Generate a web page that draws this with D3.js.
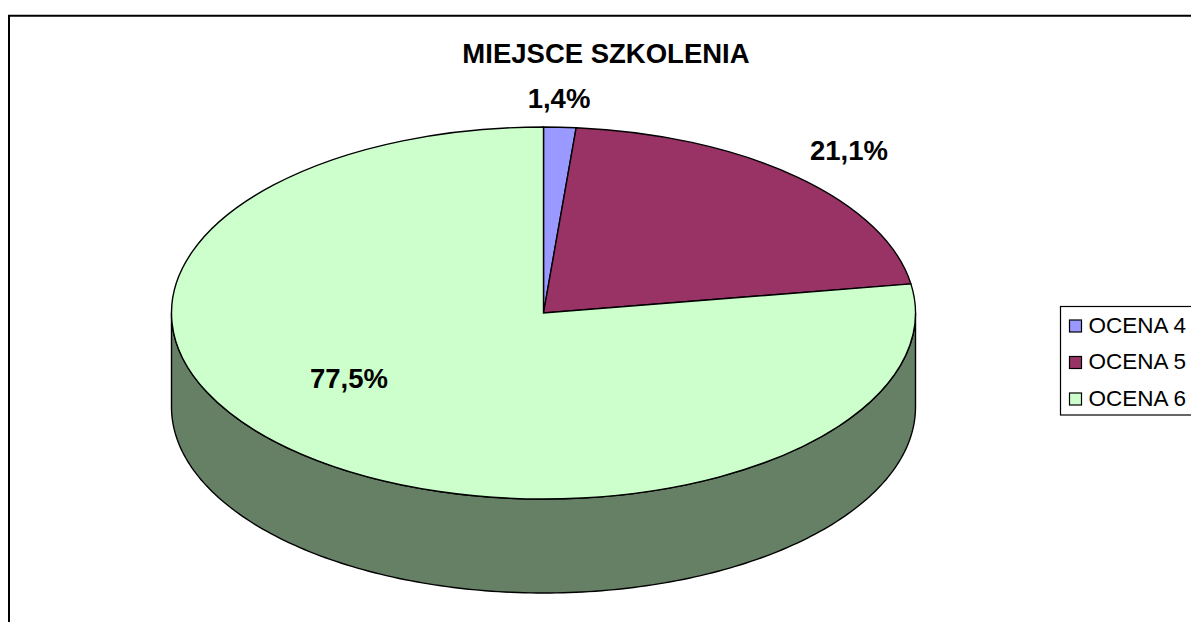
<!DOCTYPE html>
<html><head><meta charset="utf-8">
<script src="https://cdn.jsdelivr.net/npm/d3@7"></script>
<style>html,body{margin:0;padding:0;background:#fff;overflow:hidden}svg{display:block}text{font-family:"Liberation Sans",Arial,sans-serif;fill:#000}</style>
</head><body><svg id="c" width="1191" height="622"></svg>
<script>
const categories = ["OCENA 4","OCENA 5","OCENA 6"];
const values = [1.4,21.1,77.5];
const labels = ["1,4%","21,1%","77,5%"];
const colors = ["#9999FF","#993366","#CCFFCC"];
const wallColor = "#668066";
const title = "MIEJSCE SZKOLENIA";
const labelPos = [[559,98],[849,150],[349,378]];

const svg = d3.select("#c");
const W = 1191, H = 622;
const cx = 543.5, cy = 313, rx = 372, ry = 186, depth = 94;

// frame
svg.append("path").attr("d",`M9,${H+2}V15.7H${W+2}`).attr("fill","none").attr("stroke","#000").attr("stroke-width",2);

const px = a => cx + rx*Math.sin(a);
const py = (a,d=0) => cy - ry*Math.cos(a) + d;

// side wall: the lower half of the ellipse, extruded downward
const steps = d3.range(Math.PI/2, 3*Math.PI/2+1e-6, Math.PI/180);
const wall = d3.area().x(a=>px(a)).y0(a=>py(a)).y1(a=>py(a,depth));
svg.append("path").attr("d",wall(steps)).attr("fill",wallColor).attr("stroke","#000").attr("stroke-width",1.4);

// top slices
const pie = d3.pie().sort(null).value(d=>d);
const arcs = pie(values);
const arc = d3.arc().innerRadius(0).outerRadius(rx);
const topFace = svg.append("g").attr("transform",`translate(${cx},${cy}) scale(1,${ry/rx})`);
topFace.selectAll("path").data(arcs).join("path")
  .attr("d",arc).attr("fill",(d,i)=>colors[i])
  .attr("stroke","#000").attr("stroke-width",1.4).attr("vector-effect","non-scaling-stroke");

// title and value labels
svg.append("text").attr("x",606).attr("y",63).attr("text-anchor","middle")
  .attr("font-size",27.5).attr("font-weight","bold").text(title);
svg.selectAll("text.v").data(labels).join("text").attr("class","v")
  .attr("x",(d,i)=>labelPos[i][0]).attr("y",(d,i)=>labelPos[i][1]).attr("dy","0.36em")
  .attr("text-anchor","middle").attr("font-size",27.5).attr("font-weight","bold").text(d=>d);

// legend
const lg = svg.append("g");
lg.append("rect").attr("x",1060.5).attr("y",306.5).attr("width",140).attr("height",108.5)
  .attr("fill","#fff").attr("stroke","#000").attr("stroke-width",1.2);
const ly = d3.scalePoint().domain(categories).range([324.5,397.5]);
lg.selectAll("rect.k").data(categories).join("rect").attr("class","k")
  .attr("x",1069.5).attr("y",d=>ly(d)-4.5).attr("width",12).attr("height",12)
  .attr("fill",(d,i)=>colors[i]).attr("stroke","#000").attr("stroke-width",1.2);
lg.selectAll("text.l").data(categories).join("text").attr("class","l")
  .attr("x",1088.5).attr("y",d=>ly(d)).attr("dy","0.36em")
  .attr("font-size",22.5).text(d=>d);
</script></body></html>
